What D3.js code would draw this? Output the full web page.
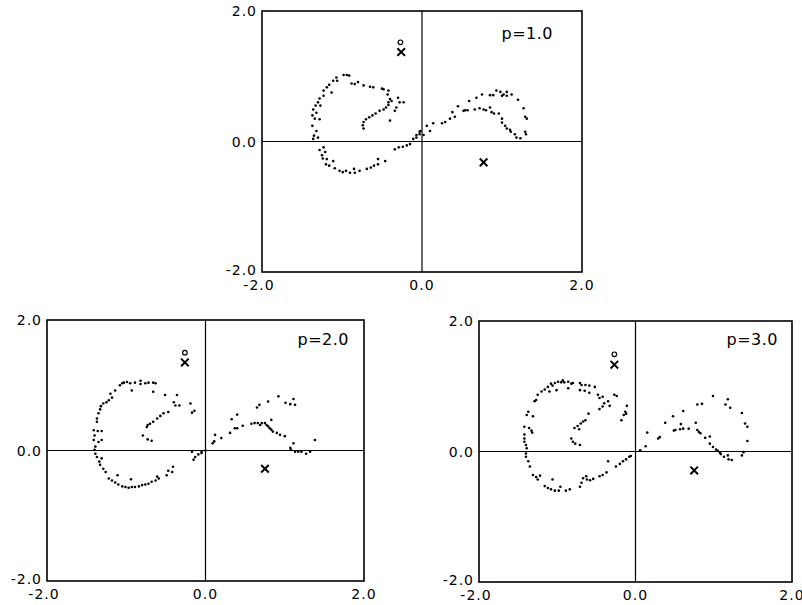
<!DOCTYPE html>
<html>
<head>
<meta charset="utf-8">
<script src="https://cdn.jsdelivr.net/npm/d3@7"></script>
<style>
  body { margin: 0; background: #fff; }
  svg text { font-family: "DejaVu Sans", sans-serif; fill: #000; }
</style>
</head>
<body>
<div id="chart"></div>
<script>
/* trajectory points (x, y) */
const dotsP1 = [
  [-0.98,1.02],[-0.94,1.02],[-0.91,1.01],[-1.07,0.98],[-1.06,0.93],[-1.11,0.93],[-1.16,0.87],[-1.19,0.83],
  [-1.23,0.78],[-1.13,0.75],[-1.23,0.70],[-1.28,0.66],[-1.30,0.60],[-1.27,0.55],[-1.33,0.55],[-1.36,0.49],
  [-1.32,0.44],[-1.37,0.40],[-1.34,0.35],[-1.28,0.34],[-1.37,0.24],[-1.32,0.16],[-1.35,0.09],[-1.36,0.04],
  [-1.30,0.06],
  [-0.88,0.89],[-0.84,0.88],[-0.80,0.91],[-0.73,0.86],[-0.65,0.84],[-0.61,0.83],[-0.50,0.81],[-0.48,0.80],
  [-0.42,0.78],[-0.43,0.72],[-0.40,0.65],[-0.42,0.60],[-0.38,0.62],[-0.30,0.67],[-0.28,0.60],[-0.23,0.60],
  [-0.32,0.52],[-0.34,0.47],[-0.40,0.32],
  [-0.73,0.20],[-0.74,0.25],[-0.73,0.30],[-0.70,0.34],[-0.66,0.37],[-0.62,0.40],[-0.58,0.43],[-0.53,0.47],
  [-0.48,0.49],[-0.45,0.52],[-0.42,0.56],
  [-1.23,-0.09],[-1.28,-0.13],[-1.21,-0.16],[-1.25,-0.21],[-1.24,-0.26],[-1.19,-0.27],[-1.20,-0.35],[-1.16,-0.37],
  [-1.11,-0.30],[-1.09,-0.41],[-1.03,-0.45],[-0.99,-0.47],[-0.95,-0.45],[-0.90,-0.48],[-0.85,-0.42],[-0.84,-0.48],
  [-0.78,-0.45],[-0.69,-0.42],[-0.64,-0.40],[-0.60,-0.37],[-0.55,-0.35],[-0.55,-0.27],[-0.46,-0.30],[-0.34,-0.12],
  [-0.29,-0.09],[-0.24,-0.08],[-0.19,-0.06],[-0.15,-0.04],[-0.11,0.04],[-0.07,0.06],[-0.03,0.11],[-0.02,0.16],
  [-0.07,0.10],[-0.03,0.15],[0.02,0.10],[0.06,0.24],[0.10,0.16],[0.14,0.28],[0.25,0.28],[0.29,0.30],
  [0.35,0.35],[0.38,0.45],[0.41,0.38],[0.45,0.54],[0.52,0.47],[0.54,0.48],[0.57,0.48],[0.59,0.62],
  [0.66,0.49],[0.68,0.67],[0.72,0.51],[0.75,0.72],[0.77,0.49],[0.80,0.48],[0.85,0.52],[0.85,0.71],
  [0.89,0.71],[0.93,0.78],[0.98,0.76],[1.00,0.70],[1.02,0.72],[1.06,0.70],[1.06,0.76],[1.12,0.72],
  [0.87,0.45],[0.90,0.43],[0.96,0.43],[1.00,0.35],[1.00,0.29],[1.04,0.24],[1.06,0.20],[1.10,0.18],
  [1.11,0.15],[1.16,0.11],[1.18,0.06],[1.23,0.05],[1.20,0.64],[1.27,0.51],[1.29,0.38],[1.31,0.35],
  [1.29,0.15],[1.30,0.11]
];

const dotsP2 = [
  [-1.08,1.00],[-1.05,1.03],[-1.03,1.04],[-0.99,1.05],[-0.95,1.03],[-0.89,1.04],[-0.82,1.07],[-0.82,1.02],
  [-0.76,1.03],[-0.72,1.04],[-0.66,1.04],[-0.63,1.03],[-0.93,0.92],[-1.14,0.92],[-1.20,0.87],[-1.18,0.81],
  [-1.22,0.77],[-1.25,0.74],[-1.29,0.72],[-1.32,0.68],[-1.33,0.63],[-1.35,0.57],[-1.37,0.49],[-1.37,0.44],
  [-1.41,0.31],[-1.36,0.30],[-1.31,0.30],[-1.40,0.23],[-1.41,0.16],[-1.35,0.13],[-1.31,0.16],[-1.39,0.06],
  [-1.40,0.01],[-1.39,-0.05],[-1.37,-0.10],[-1.31,-0.12],[-1.34,-0.17],[-1.33,-0.22],[-1.29,-0.28],[-1.26,-0.33],
  [-1.22,-0.43],[-1.18,-0.46],[-1.14,-0.49],[-1.10,-0.52],[-1.05,-0.55],[-1.01,-0.56],[-0.97,-0.57],[-0.93,-0.56],
  [-0.89,-0.56],[-0.84,-0.55],[-0.80,-0.53],[-0.76,-0.52],[-0.72,-0.51],[-0.68,-0.48],[-0.63,-0.46],[-0.59,-0.43],
  [-1.11,-0.38],[-0.94,-0.44],[-0.61,-0.40],[-0.49,-0.38],[-0.47,-0.31],[-0.41,-0.25],[-0.42,-0.33],
  [-0.15,-0.14],[-0.13,-0.10],[-0.09,-0.06],[-0.05,-0.04],[0.00,0.00],[-0.17,-0.02],
  [-0.66,0.90],[-0.51,0.85],[-0.36,0.85],[-0.40,0.74],[-0.38,0.69],[-0.47,0.59],[-0.53,0.57],[-0.57,0.53],
  [-0.61,0.49],[-0.66,0.44],[-0.70,0.41],[-0.73,0.39],[-0.74,0.36],[-0.79,0.23],[-0.73,0.17],[-0.68,0.15],
  [-0.33,0.69],[-0.19,0.72],[-0.17,0.58],[-0.14,0.61],
  [0.09,0.11],[0.11,0.14],[0.12,0.24],[0.20,0.19],[0.31,0.27],[0.33,0.48],[0.40,0.55],[0.37,0.34],
  [0.40,0.34],[0.47,0.38],[0.58,0.41],[0.62,0.42],[0.66,0.42],[0.69,0.39],[0.71,0.42],[0.75,0.42],
  [0.77,0.39],[0.79,0.37],[0.81,0.34],[0.83,0.32],[0.85,0.29],[0.90,0.27],[0.94,0.24],[1.00,0.22],
  [0.83,0.47],[0.65,0.66],[0.68,0.70],[0.79,0.75],[0.92,0.83],[1.01,0.73],[1.07,0.71],[1.11,0.79],
  [1.13,0.70],[1.11,0.11],[1.07,0.04],[1.08,0.01],[1.13,-0.02],[1.17,-0.02],[1.21,-0.02],[1.27,-0.05],
  [1.32,-0.02],[1.38,0.16],[-0.05,-0.02]
];

const dotsP3 = [
  [-1.29,0.77],[-1.27,0.79],[-1.25,0.87],[-1.20,0.92],[-1.16,0.95],[-1.12,0.99],[-1.08,1.04],[-1.06,1.01],
  [-1.03,1.05],[-0.99,1.07],[-0.95,1.06],[-0.93,1.09],[-0.91,1.06],[-0.86,1.07],[-0.82,1.04],[-0.80,1.05],
  [-0.71,1.05],[-0.69,1.02],[-0.64,1.02],[-0.59,1.01],[-0.52,0.99],[-1.10,0.92],[-1.01,0.94],[-0.86,0.97],
  [-0.71,0.94],[-0.65,0.93],[-0.59,0.90],[-0.48,0.87],[-0.46,0.82],[-0.42,0.84],[-0.27,0.87],[-0.24,0.85],
  [-0.40,0.74],[-0.35,0.77],[-0.42,0.69],[-0.46,0.65],[-0.33,0.70],[-0.11,0.70],[-0.13,0.61],[-0.15,0.56],
  [-0.12,0.58],[-0.18,0.48],
  [-0.60,0.58],[-0.64,0.48],[-0.67,0.46],[-0.70,0.43],[-0.74,0.39],[-0.78,0.36],[-0.72,0.34],[-0.82,0.20],
  [-0.80,0.15],[-0.77,0.12],[-0.71,0.10],
  [-1.37,0.61],[-1.39,0.56],[-1.31,0.54],[-1.42,0.38],[-1.36,0.36],[-1.33,0.32],[-1.32,0.29],[-1.42,0.26],
  [-1.42,0.20],[-1.42,0.15],[-1.40,0.10],[-1.39,0.05],[-1.40,-0.03],[-1.40,-0.08],[-1.37,-0.15],[-1.35,-0.23],
  [-1.31,-0.36],[-1.27,-0.39],[-1.25,-0.43],[-1.22,-0.37],[-1.16,-0.53],[-1.12,-0.56],[-1.08,-0.58],[-1.03,-0.60],
  [-0.98,-0.60],[-0.96,-0.54],[-1.06,-0.43],[-0.89,-0.60],[-0.84,-0.58],[-0.71,-0.54],[-0.69,-0.48],[-0.67,-0.41],
  [-0.63,-0.38],[-0.62,-0.43],[-0.58,-0.44],[-0.54,-0.42],[-0.46,-0.38],[-0.42,-0.36],[-0.37,-0.32],[-0.35,-0.15],
  [-0.25,-0.23],[-0.20,-0.19],[-0.16,-0.15],[-0.12,-0.12],[-0.08,-0.08],[-0.06,-0.07],
  [0.06,0.02],[0.13,0.08],[0.15,0.29],[0.29,0.20],[0.31,0.22],[0.38,0.44],[0.48,0.54],[0.49,0.32],
  [0.51,0.33],[0.57,0.34],[0.58,0.42],[0.61,0.62],[0.61,0.35],[0.68,0.35],[0.77,0.44],[0.79,0.72],
  [0.85,0.73],[0.79,0.33],[0.81,0.30],[0.83,0.28],[0.89,0.21],[0.95,0.23],[0.95,0.12],[0.99,0.07],
  [1.03,0.03],[1.05,0.01],[1.08,-0.02],[1.09,-0.04],[1.13,-0.08],[1.18,-0.06],[1.19,-0.12],[1.23,-0.13],
  [1.36,-0.06],[1.38,-0.01],[0.99,0.85],[1.15,0.72],[1.18,0.80],[1.21,0.67],[1.36,0.59],[1.40,0.43],
  [1.43,0.38],[1.43,0.16]
];

/* fixed markers: small circle above a cross, and a second cross */
const circleMarks = [[-0.27, 1.52], [-0.26, 1.50], [-0.27, 1.49]];
const crossMarks = [
  [[-0.26, 1.37], [0.77, -0.32]],
  [[-0.26, 1.35], [0.75, -0.28]],
  [[-0.27, 1.33], [0.75, -0.29]]
];
const panelLabels = ["p=1.0", "p=2.0", "p=3.0"];
const tickValues = [-2, 0, 2];

const width = 802, height = 605;

// panel boxes in page pixels
const panels = [
  { x0: 262, x1: 582, y0: 11, y1: 272, labelDx: 29, labelDy: 28, dots: dotsP1 },
  { x0: 47, x1: 364, y0: 320, y1: 581, labelDx: 15, labelDy: 25, dots: dotsP2 },
  { x0: 479, x1: 792, y0: 321, y1: 582, labelDx: 14, labelDy: 24, dots: dotsP3 }
];

let svg = d3.select("#chart")
  .append("svg")
  .attr("width", width)
  .attr("height", height);

// plain hyphen for the minus sign, like the original
const fmt = d => d.toFixed(1);

panels.forEach((p, i) => {
  let x = d3.scaleLinear().domain([-2, 2]).range([p.x0, p.x1]);
  let y = d3.scaleLinear().domain([-2, 2]).range([p.y1, p.y0]);

  let g = svg.append("g").attr("class", "panel");

  // zero lines
  g.append("line")
    .attr("x1", x(0)).attr("x2", x(0))
    .attr("y1", p.y0).attr("y2", p.y1)
    .attr("stroke", "#000").attr("stroke-width", 1.2);
  g.append("line")
    .attr("x1", p.x0).attr("x2", p.x1)
    .attr("y1", y(0)).attr("y2", y(0))
    .attr("stroke", "#000").attr("stroke-width", 1.2);

  // frame
  g.append("rect")
    .attr("x", p.x0).attr("y", p.y0)
    .attr("width", p.x1 - p.x0).attr("height", p.y1 - p.y0)
    .attr("fill", "none")
    .attr("stroke", "#000")
    .attr("stroke-width", 1.6);

  // left tick labels
  g.selectAll(".ylab")
    .data(tickValues)
    .join("text")
    .attr("class", "ylab")
    .attr("x", p.x0 - 5)
    .attr("y", d => y(d))
    .attr("dy", d => d === -2 ? "0.2em" : "0.36em")
    .attr("text-anchor", "end")
    .style("font-size", "14px")
    .style("letter-spacing", "1px")
    .text(d => fmt(d));

  // bottom tick labels
  g.selectAll(".xlab")
    .data(tickValues)
    .join("text")
    .attr("class", "xlab")
    .attr("x", d => d === -2 ? x(d) - 3 : x(d))
    .attr("y", p.y1 + 18)
    .attr("text-anchor", "middle")
    .style("font-size", "14px")
    .style("letter-spacing", "1px")
    .text(d => fmt(d));

  // trajectory dots
  g.selectAll(".dot")
    .data(p.dots)
    .join("circle")
    .attr("class", "dot")
    .attr("cx", d => x(d[0]))
    .attr("cy", d => y(d[1]))
    .attr("r", 1.3)
    .attr("fill", "#000");

  // circle marker
  g.append("circle")
    .attr("cx", x(circleMarks[i][0]))
    .attr("cy", y(circleMarks[i][1]))
    .attr("r", 2.3)
    .attr("fill", "none")
    .attr("stroke", "#000")
    .attr("stroke-width", 1.2);

  // cross markers
  g.selectAll(".cross")
    .data(crossMarks[i])
    .join("path")
    .attr("class", "cross")
    .attr("d", d => {
      let cx = x(d[0]), cy = y(d[1]), s = 3.8;
      return `M${cx - s},${cy - s}L${cx + s},${cy + s}M${cx - s},${cy + s}L${cx + s},${cy - s}`;
    })
    .attr("stroke", "#000")
    .attr("stroke-width", 2)
    .attr("fill", "none");

  // panel label
  g.append("text")
    .attr("x", p.x1 - p.labelDx)
    .attr("y", p.y0 + p.labelDy)
    .attr("text-anchor", "end")
    .style("font-size", "16px")
    .style("letter-spacing", "0.5px")
    .text(panelLabels[i]);
});
</script>
</body>
</html>
